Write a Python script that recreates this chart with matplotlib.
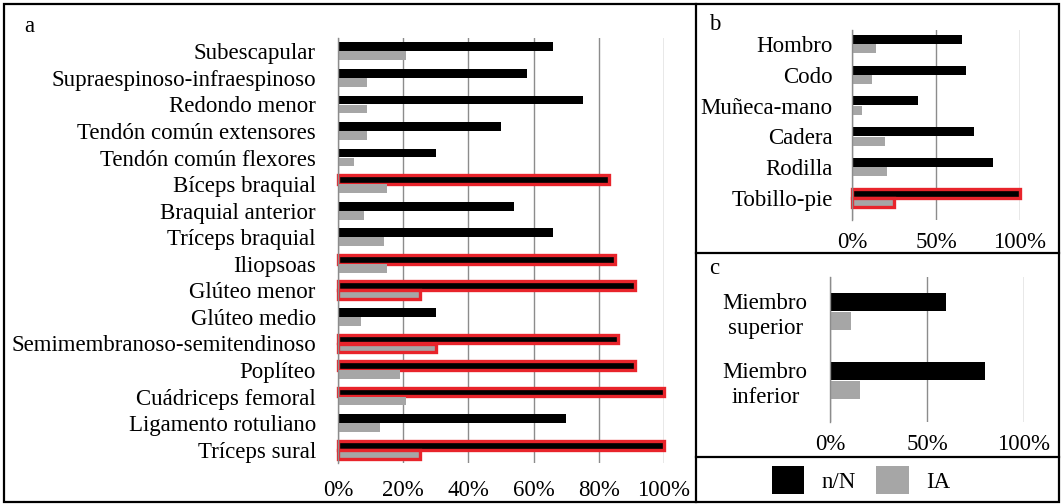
import matplotlib
matplotlib.use("Agg")
import matplotlib.pyplot as plt
from matplotlib.patches import Rectangle, Patch
from matplotlib.lines import Line2D
from matplotlib.ticker import FixedLocator, PercentFormatter
import numpy as np

plt.rcParams['font.family'] = ['Liberation Serif', 'DejaVu Serif']

# ---------------- data ----------------
a_labels = ["Subescapular", "Supraespinoso-infraespinoso", "Redondo menor",
            "Tendón común extensores", "Tendón común flexores", "Bíceps braquial",
            "Braquial anterior", "Tríceps braquial", "Iliopsoas", "Glúteo menor",
            "Glúteo medio", "Semimembranoso-semitendinoso", "Poplíteo",
            "Cuádriceps femoral", "Ligamento rotuliano", "Tríceps sural"]
a_nN = [66, 58, 75, 50, 30, 83, 54, 66, 85, 91, 30, 86, 91, 100, 70, 100]
a_IA = [21, 9, 9, 9, 5, 15, 8, 14, 15, 25, 7, 30, 19, 21, 13, 25]
a_hl_nN = [0, 0, 0, 0, 0, 1, 0, 0, 1, 1, 0, 1, 1, 1, 0, 1]
a_hl_IA = [0, 0, 0, 0, 0, 0, 0, 0, 0, 1, 0, 1, 0, 0, 0, 1]

b_labels = ["Hombro", "Codo", "Muñeca-mano", "Cadera", "Rodilla", "Tobillo-pie"]
b_nN = [65.5, 67.7, 39, 72.7, 84.2, 100]
b_IA = [14, 11.7, 6, 19.6, 21, 25]
b_hl_nN = [0, 0, 0, 0, 0, 1]
b_hl_IA = [0, 0, 0, 0, 0, 1]

c_labels = ["Miembro\nsuperior", "Miembro\ninferior"]
c_nN = [60, 80]
c_IA = [10.6, 15.6]

a_ticks = [0, 20, 40, 60, 80, 100]
bc_ticks = [0, 50, 100]

series_names = ["n/N", "IA"]

# ---------------- style ----------------
BLACK = "#000000"
GRAY = "#a6a6a6"
RED = "#e8242b"
GRID = "#8c8c8c"
FS = 16.5
W, H = 1063, 504

fig = plt.figure(figsize=(W / 100, H / 100), dpi=100)


def px_axes(l, t, r, b):
    return fig.add_axes([l / W, 1 - b / H, (r - l) / W, (b - t) / H])


def style(ax, ticks, ylim, xpad, ypad):
    ax.set_xlim(0, 100)
    ax.set_ylim(*ylim)
    for s in ("top", "right", "bottom"):
        ax.spines[s].set_visible(False)
    ax.spines["left"].set_color(GRID)
    ax.spines["left"].set_linewidth(1)
    ax.xaxis.set_major_locator(FixedLocator(ticks))
    ax.xaxis.set_major_formatter(PercentFormatter(100, decimals=0))
    ax.grid(axis="x", color=GRID, linewidth=1)
    ax.set_axisbelow(True)
    ax.tick_params(axis="both", length=0, labelsize=FS)
    ax.tick_params(axis="x", pad=xpad)
    ax.tick_params(axis="y", pad=ypad)


def draw(ax, labels, nN, IA, hl_nN, hl_IA, off, h, lw):
    y = np.arange(len(labels))
    ec1 = [RED if v else "none" for v in hl_nN]
    ec2 = [RED if v else "none" for v in hl_IA]
    lw1 = [lw if v else 0 for v in hl_nN]
    lw2 = [lw if v else 0 for v in hl_IA]
    b1 = ax.barh(y - off, nN, height=h, color=BLACK, edgecolor=ec1, linewidth=lw1)
    b2 = ax.barh(y + off, IA, height=h, color=GRAY, edgecolor=ec2, linewidth=lw2)
    for p in list(b1) + list(b2):
        p.set_clip_on(False)
    ax.set_yticks(y)
    ax.set_yticklabels(labels, fontsize=FS)


# panel a
ax_a = px_axes(338, 38, 664, 463)
style(ax_a, a_ticks, (15.5, -0.5), 12, 16)
draw(ax_a, a_labels, a_nN, a_IA, a_hl_nN, a_hl_IA, 0.17, 0.33, 2.4)

# panel b
ax_b = px_axes(852, 30, 1020, 220)
style(ax_b, bc_ticks, (5.71, -0.45), 9, 14)
draw(ax_b, b_labels, b_nN, b_IA, b_hl_nN, b_hl_IA, 0.15, 0.29, 2.4)

# panel c
ax_c = px_axes(830, 277, 1024, 422)
style(ax_c, bc_ticks, (1.6, -0.5), 9, 16)
draw(ax_c, c_labels, c_nN, c_IA, [0, 0], [0, 0], 0.138, 0.26, 0)
for t in ax_c.get_yticklabels():
    t.set_multialignment("center")
    t.set_linespacing(1.25)

# panel letters
fig.text(24 / W, 1 - 27 / H, "a", fontsize=FS, va="center", ha="left")
fig.text(709 / W, 1 - 24 / H, "b", fontsize=FS, va="center", ha="left")
fig.text(709 / W, 1 - 268 / H, "c", fontsize=FS, va="center", ha="left")

# frames
LW = 1.6
fig.add_artist(Rectangle((4 / W, 1 - 502 / H), (1059 - 4) / W, (502 - 4) / H,
                         transform=fig.transFigure, fill=False, edgecolor="black",
                         linewidth=LW))
fig.add_artist(Line2D([696 / W, 696 / W], [1 - 4 / H, 1 - 502 / H],
                      transform=fig.transFigure, color="black", linewidth=LW))
fig.add_artist(Line2D([696 / W, 1059 / W], [1 - 253 / H, 1 - 253 / H],
                      transform=fig.transFigure, color="black", linewidth=LW))
fig.add_artist(Line2D([696 / W, 1059 / W], [1 - 457 / H, 1 - 457 / H],
                      transform=fig.transFigure, color="black", linewidth=LW))

# legend
handles = [Patch(facecolor=BLACK, edgecolor="none"), Patch(facecolor=GRAY, edgecolor="none")]
fig.legend(handles, series_names, loc="center", bbox_to_anchor=(861 / W, 1 - 480 / H),
           ncol=2, frameon=False, fontsize=FS, handlelength=1.4, handleheight=1.5,
           handletextpad=0.75, columnspacing=0.9, borderaxespad=0, borderpad=0)

fig.savefig("out.png", dpi=100)
